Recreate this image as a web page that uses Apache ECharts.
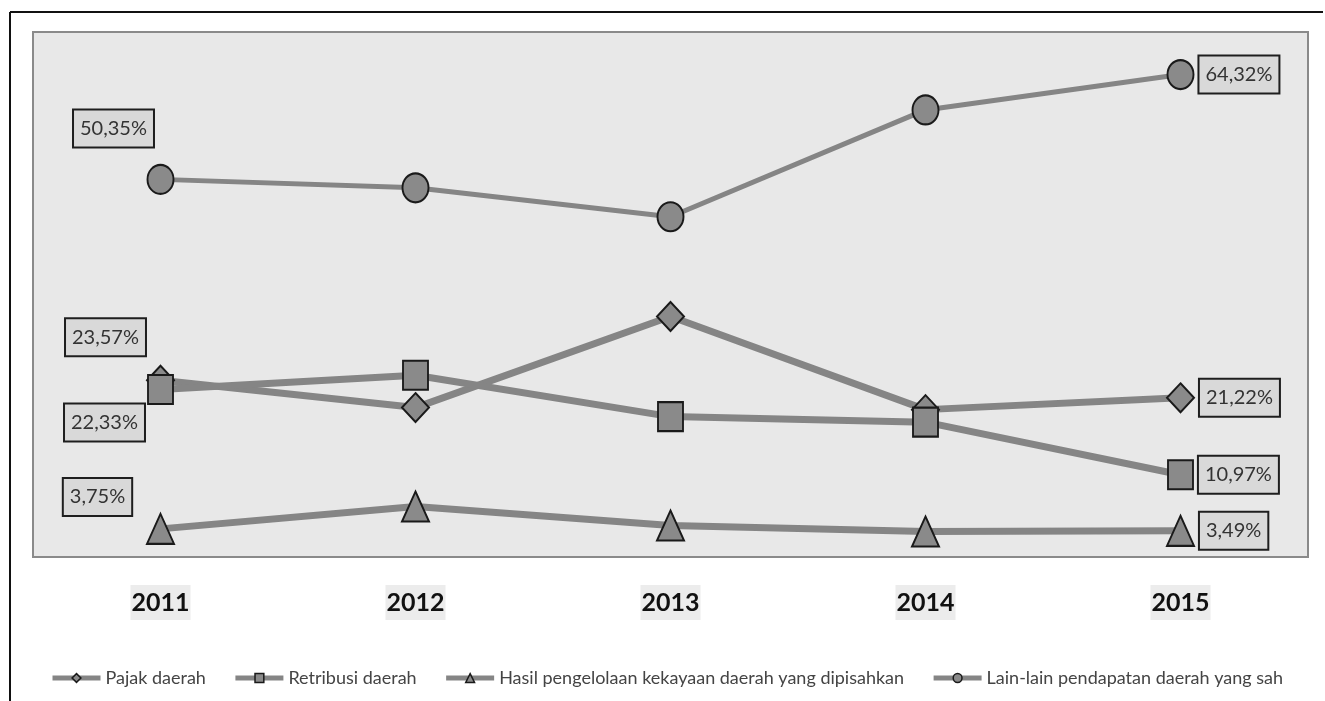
<!DOCTYPE html>
<html>
<head>
<meta charset="utf-8">
<script src="https://cdn.jsdelivr.net/npm/echarts@6/dist/echarts.min.js"></script>
<style>
html,body{margin:0;padding:0;background:#fff;}
#chart{width:1325px;height:701px;}
</style>
</head>
<body>
<div id="chart"></div>
<script>
// ---- data ----
var years = ['2011', '2012', '2013', '2014', '2015'];
var seriesNames = ['Pajak daerah', 'Retribusi daerah', 'Hasil pengelolaan kekayaan daerah yang dipisahkan', 'Lain-lain pendapatan daerah yang sah'];
var pajakDaerah = [23.57, 19.92, 32.07, 19.65, 21.22];
var retribusiDaerah = [22.33, 24.23, 18.72, 17.98, 10.97];
var hasilPengelolaan = [3.75, 6.73, 4.20, 3.40, 3.49];
var lainLain = [50.35, 49.22, 45.36, 59.61, 64.32];

// ---- styling ----
var FONT = 'Lato, "Open Sans", sans-serif';
var LINE_COLOR = '#858585';
var labelBox = {
  show: true,
  fontFamily: FONT,
  fontSize: 20,
  color: '#333333',
  backgroundColor: '#d9d9d9',
  borderColor: '#1e1e1e',
  borderWidth: 2,
  padding: [9, 6, 7, 6],
  formatter: function (p) { return p.value.toFixed(2).replace('.', ',') + '%'; }
};
// label placements for first point (2011), relative to the point centre
var firstOffsets = [[-55, -43], [-56, 33], [-63, -32], [-47, -51]];
var symbols = ['diamond', 'rect', 'triangle', 'circle'];
var symbolSizes = [[27, 29], [25, 29], [27, 30], [26, 29]];
var lineWidths = [7, 7, 7, 5];
var allValues = [pajakDaerah, retribusiDaerah, hasilPengelolaan, lainLain];

function buildData(vals, idx) {
  return vals.map(function (v, i) {
    var item = { value: v };
    if (i === 0) {
      item.label = Object.assign({}, labelBox, { position: 'inside', offset: firstOffsets[idx] });
    } else if (i === vals.length - 1) {
      item.label = Object.assign({}, labelBox, { position: 'right', distance: 5 });
    }
    return item;
  });
}

var series = allValues.map(function (vals, idx) {
  return {
    name: seriesNames[idx],
    type: 'line',
    data: buildData(vals, idx),
    symbol: symbols[idx],
    symbolSize: symbolSizes[idx],
    lineStyle: { color: LINE_COLOR, width: lineWidths[idx] },
    itemStyle: { color: '#8a8a8a', borderColor: '#1a1a1a', borderWidth: 2 },
    label: { show: false },
    emphasis: { disabled: true },
    animation: false,
    z: 2 + idx
  };
});

var chart = echarts.init(document.getElementById('chart'), null, { renderer: 'canvas' });
chart.setOption({
  backgroundColor: '#ffffff',
  animation: false,
  grid: {
    left: 33, right: 17, top: 32, bottom: 144,
    show: true,
    backgroundColor: '#e8e8e8',
    borderColor: '#8a8a8a',
    borderWidth: 2
  },
  xAxis: {
    type: 'category',
    data: years,
    boundaryGap: true,
    axisLine: { show: false },
    axisTick: { show: false },
    axisLabel: {
      margin: 28,
      fontFamily: FONT,
      fontWeight: 'bold',
      fontSize: 25,
      color: '#111',
      backgroundColor: '#ececec',
      padding: [5, 1, 5, 1]
    }
  },
  yAxis: {
    type: 'value',
    min: 0,
    max: 70,
    show: false,
    splitLine: { show: false }
  },
  legend: {
    left: 45,
    top: 664,
    width: 1275,
    itemWidth: 48,
    itemHeight: 11,
    itemGap: 27,
    lineStyle: { width: 5, color: '#858585' },
    itemStyle: { borderWidth: 1.5 },
    textStyle: { fontFamily: FONT, fontSize: 18, color: '#444' },
    data: seriesNames
  },
  graphic: [
    { type: 'line', shape: { x1: 10, y1: 12, x2: 1323, y2: 12 }, style: { stroke: '#111', lineWidth: 2 } },
    { type: 'line', shape: { x1: 10, y1: 12, x2: 10, y2: 701 }, style: { stroke: '#111', lineWidth: 2 } }
  ],
  series: series
});
</script>
</body>
</html>
